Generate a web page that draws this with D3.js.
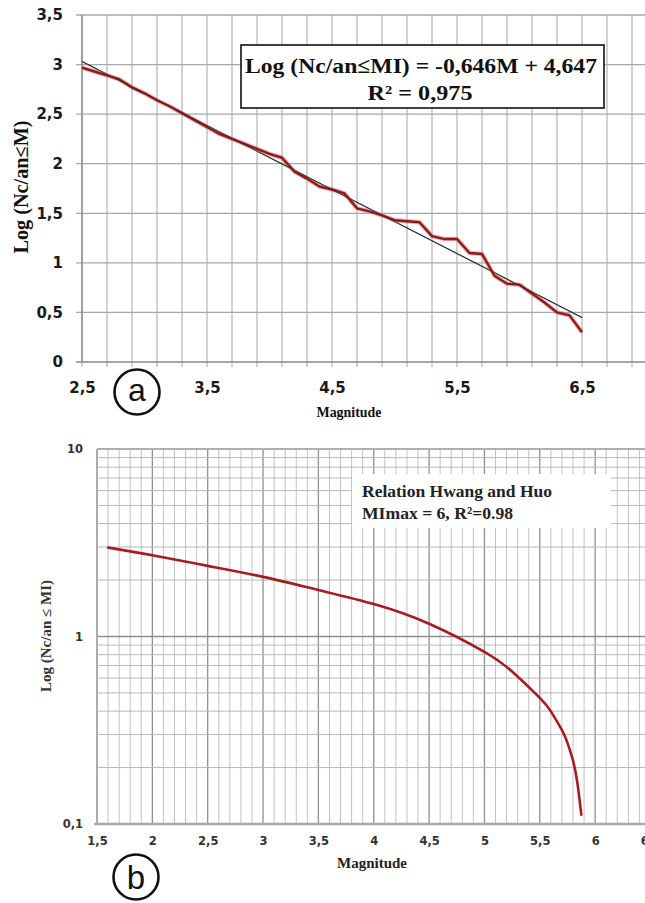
<!DOCTYPE html>
<html><head><meta charset="utf-8">
<script src="https://cdn.jsdelivr.net/npm/d3@7"></script>
<style>body{margin:0;background:#fff}svg{display:block}</style>
</head><body>
<script>
// ---------- Chart (a) data ----------
const magA = [2.5,2.6,2.7,2.8,2.9,3.0,3.1,3.2,3.3,3.4,3.5,3.6,3.7,3.8,3.9,4.0,4.1,4.2,4.3,4.4,4.5,4.6,4.7,4.8,4.9,5.0,5.1,5.2,5.3,5.4,5.5,5.6,5.7,5.8,5.9,6.0,6.1,6.2,6.3,6.4,6.5];
const logNA = [2.97,2.93,2.89,2.85,2.77,2.71,2.64,2.58,2.51,2.44,2.37,2.30,2.25,2.20,2.15,2.10,2.06,1.92,1.85,1.77,1.74,1.70,1.55,1.52,1.48,1.43,1.42,1.41,1.27,1.24,1.24,1.10,1.09,0.87,0.79,0.78,0.69,0.60,0.50,0.47,0.30];
const fitM = [2.5, 6.5];
const fitLog = [3.032, 0.448];
const topXTicks = [2.5,3.5,4.5,5.5,6.5];
const topYTicks = [0,0.5,1,1.5,2,2.5,3,3.5];
const topXGrid = [2.5,2.7,2.9,3.1,3.3,3.5,3.7,3.9,4.1,4.3,4.5,4.7,4.9,5.1,5.3,5.5,5.7,5.9,6.1,6.3,6.5,6.7,6.9];

// ---------- Chart (b) data ----------
const magB = [1.6,2.0,2.5,3.0,3.5,4.0,4.5,5.0,5.25,5.5,5.6,5.7,5.75,5.8,5.84,5.875];
const nB = [2.98,2.71,2.38,2.08,1.77,1.49,1.17,0.828,0.650,0.471,0.399,0.317,0.271,0.218,0.165,0.112];
const botXTicks = [1.5,2,2.5,3,3.5,4,4.5,5,5.5,6,6.5];
const botYTicks = [0.1,1,10];

const W = 645, H = 903;
const svg = d3.select("body").append("svg").attr("width", W).attr("height", H);
const fmt = v => String(v).replace(".", ",");
const SERIF = "'Liberation Serif','Times New Roman',serif";
const SANS = "'DejaVu Sans',sans-serif";

// ================= Chart (a) =================
const xA = d3.scaleLinear().domain([2.5, 7]).range([82, 644.5]);
const yA = d3.scaleLinear().domain([0, 3.5]).range([362, 15]);
const gA = svg.append("g");

gA.selectAll("line.vg").data(topXGrid).join("line")
  .attr("x1", d => xA(d)).attr("x2", d => xA(d))
  .attr("y1", yA(3.5)).attr("y2", yA(0) + 5)
  .attr("stroke", "#b4b4b4").attr("stroke-width", 1.2);
gA.selectAll("line.hg").data(topYTicks).join("line")
  .attr("x1", xA(2.5) - 6).attr("x2", W)
  .attr("y1", d => yA(d)).attr("y2", d => yA(d))
  .attr("stroke", d => d === 0 ? "#8a8a8a" : "#a8a8a8").attr("stroke-width", d => d === 0 ? 1.6 : 1.3);
gA.append("line").attr("x1", xA(2.5)).attr("x2", xA(2.5)).attr("y1", yA(3.5)).attr("y2", yA(0))
  .attr("stroke", "#8a8a8a").attr("stroke-width", 1.4);

const axYA = gA.append("g").attr("transform", `translate(${xA(2.5)},0)`)
  .call(d3.axisLeft(yA).tickValues(topYTicks).tickSize(0).tickPadding(19).tickFormat(fmt));
const axXA = gA.append("g").attr("transform", `translate(0,${yA(0)})`)
  .call(d3.axisBottom(xA).tickValues(topXTicks).tickSize(0).tickPadding(20).tickFormat(fmt));
[axYA, axXA].forEach(a => {
  a.select(".domain").remove();
  a.selectAll("text").attr("font-family", SANS).attr("font-weight", "bold").attr("font-size", 15).attr("fill", "#1a1a1a");
});

// fit line
gA.append("path").datum(fitM.map((m, i) => [m, fitLog[i]]))
  .attr("d", d3.line().x(d => xA(d[0])).y(d => yA(d[1])))
  .attr("fill", "none").attr("stroke", "#2a2a2a").attr("stroke-width", 1.1);
// data line
const lineA = d3.line().x(d => xA(d[0])).y(d => yA(d[1]));
const ptsA = magA.map((m, i) => [m, logNA[i]]);
gA.append("path").datum(ptsA).attr("d", lineA).attr("fill", "none")
  .attr("stroke", "#d77a7a").attr("stroke-opacity", 0.55).attr("stroke-width", 4.5).attr("stroke-linejoin", "round");
gA.append("path").datum(ptsA).attr("d", lineA).attr("fill", "none")
  .attr("stroke", "#8e1a1c").attr("stroke-width", 2.4).attr("stroke-linejoin", "round");
gA.append("path").datum(fitM.map((m, i) => [m, fitLog[i]]))
  .attr("d", d3.line().x(d => xA(d[0])).y(d => yA(d[1])))
  .attr("fill", "none").attr("stroke", "#2a2a2a").attr("stroke-opacity", 0.6).attr("stroke-width", 0.9);

// legend box (a)
gA.append("rect").attr("x", 241).attr("y", 45).attr("width", 363).attr("height", 63)
  .attr("fill", "#fff").attr("stroke", "#111").attr("stroke-width", 1.6);
gA.append("text").attr("x", 421).attr("y", 73).attr("text-anchor", "middle")
  .attr("font-family", SERIF).attr("font-weight", "bold").attr("font-size", 22).attr("fill", "#111")
  .attr("textLength", 352).attr("lengthAdjust", "spacingAndGlyphs")
  .text("Log (Nc/an≤MI) = -0,646M + 4,647");
gA.append("text").attr("x", 420).attr("y", 100).attr("text-anchor", "middle")
  .attr("font-family", SERIF).attr("font-weight", "bold").attr("font-size", 22).attr("fill", "#111")
  .attr("textLength", 105).attr("lengthAdjust", "spacingAndGlyphs")
  .text("R² = 0,975");

// axis titles (a)
gA.append("text").attr("transform", "translate(21,187) rotate(-90)").attr("text-anchor", "middle")
  .attr("dy", "0.35em").attr("font-family", SERIF).attr("font-weight", "bold").attr("font-size", 20).attr("fill", "#111")
  .attr("textLength", 133).attr("lengthAdjust", "spacingAndGlyphs")
  .text("Log (Nc/an≤M)");
gA.append("text").attr("x", 349).attr("y", 417).attr("text-anchor", "middle")
  .attr("font-family", SERIF).attr("font-weight", "bold").attr("font-size", 14.5).attr("fill", "#111")
  .attr("textLength", 65).attr("lengthAdjust", "spacingAndGlyphs")
  .text("Magnitude");

// badge a
gA.append("circle").attr("cx", 137).attr("cy", 392).attr("r", 22.5).attr("fill", "none").attr("stroke", "#111").attr("stroke-width", 2.6);
gA.append("text").attr("x", 137).attr("y", 401).attr("text-anchor", "middle")
  .attr("font-family", "'Liberation Sans',Arial,sans-serif").attr("font-size", 32).attr("fill", "#111").text("a");

// ================= Chart (b) =================
const xB = d3.scaleLinear().domain([1.5, 6.5]).range([97, 650.5]);
const yB = d3.scaleLog().domain([0.1, 10]).range([824, 449]);
const gB = svg.append("g");

const vGridB = d3.range(15, 65).map(k => k / 10);
gB.selectAll("line.vg").data(vGridB).join("line")
  .attr("x1", d => xB(d)).attr("x2", d => xB(d))
  .attr("y1", yB(10)).attr("y2", yB(0.1))
  .attr("stroke", d => (Math.round(d * 10) % 5 === 0) ? "#8f8f8f" : "#c2c2c2")
  .attr("stroke-width", d => (Math.round(d * 10) % 5 === 0) ? 1.3 : 1);
const hGridB = [];
[0.1, 1].forEach(e => { for (let k = 1; k <= 9; k++) hGridB.push(+(k * e).toFixed(2)); });
hGridB.push(10);
gB.selectAll("line.hg").data(hGridB).join("line")
  .attr("x1", xB(1.5)).attr("x2", W)
  .attr("y1", d => yB(d)).attr("y2", d => yB(d))
  .attr("stroke", d => (d === 1) ? "#8f8f8f" : "#b8b8b8")
  .attr("stroke-width", d => (d === 1) ? 1.3 : 1);
gB.append("line").attr("x1", xB(1.5)).attr("x2", W).attr("y1", yB(10)).attr("y2", yB(10)).attr("stroke", "#b0b0b0").attr("stroke-width", 2);
gB.append("line").attr("x1", xB(1.5) - 3).attr("x2", W).attr("y1", yB(0.1)).attr("y2", yB(0.1)).attr("stroke", "#a8a8a8").attr("stroke-width", 2.4);
gB.append("line").attr("x1", xB(1.5)).attr("x2", xB(1.5)).attr("y1", yB(10)).attr("y2", yB(0.1)).attr("stroke", "#a8a8a8").attr("stroke-width", 1.4);

const axYB = gB.append("g").attr("transform", `translate(${xB(1.5)},0)`)
  .call(d3.axisLeft(yB).tickValues(botYTicks).tickSize(0).tickPadding(14).tickFormat(fmt));
const axXB = gB.append("g").attr("transform", `translate(0,${yB(0.1)})`)
  .call(d3.axisBottom(xB).tickValues(botXTicks).tickSize(0).tickPadding(13).tickFormat(fmt));
[axYB, axXB].forEach(a => {
  a.select(".domain").remove();
  a.selectAll("text").attr("font-family", SANS).attr("font-weight", "bold").attr("font-size", 11.5).attr("fill", "#333");
});

// legend box (b)
gB.append("rect").attr("x", 352).attr("y", 474).attr("width", 259).attr("height", 54).attr("fill", "#fff");
gB.append("text").attr("x", 362).attr("y", 497)
  .attr("font-family", SERIF).attr("font-weight", "bold").attr("font-size", 17).attr("fill", "#222")
  .attr("textLength", 190).attr("lengthAdjust", "spacingAndGlyphs")
  .text("Relation Hwang and Huo");
gB.append("text").attr("x", 362).attr("y", 519)
  .attr("font-family", SERIF).attr("font-weight", "bold").attr("font-size", 17).attr("fill", "#222")
  .attr("textLength", 151).attr("lengthAdjust", "spacingAndGlyphs")
  .text("MImax = 6, R²=0.98");

// curve
gB.append("path").datum(magB.map((m, i) => [m, nB[i]]))
  .attr("d", d3.line().x(d => xB(d[0])).y(d => yB(d[1])).curve(d3.curveNatural))
  .attr("fill", "none").attr("stroke", "#a81c1f").attr("stroke-width", 2.6).attr("stroke-linecap", "round");

// axis titles (b)
gB.append("text").attr("transform", "translate(46,636) rotate(-90)").attr("text-anchor", "middle")
  .attr("dy", "0.35em").attr("font-family", SERIF).attr("font-weight", "bold").attr("font-size", 14).attr("fill", "#333")
  .attr("textLength", 112).attr("lengthAdjust", "spacingAndGlyphs")
  .text("Log (Nc/an ≤ MI)");
gB.append("text").attr("x", 372).attr("y", 868).attr("text-anchor", "middle")
  .attr("font-family", SERIF).attr("font-weight", "bold").attr("font-size", 14.5).attr("fill", "#222")
  .attr("textLength", 70).attr("lengthAdjust", "spacingAndGlyphs")
  .text("Magnitude");

// badge b
gB.append("circle").attr("cx", 136).attr("cy", 877).attr("r", 22.5).attr("fill", "none").attr("stroke", "#111").attr("stroke-width", 2.6);
gB.append("text").attr("x", 136).attr("y", 889).attr("text-anchor", "middle")
  .attr("font-family", "'Liberation Sans',Arial,sans-serif").attr("font-size", 33).attr("fill", "#111").text("b");
</script>
</body></html>
